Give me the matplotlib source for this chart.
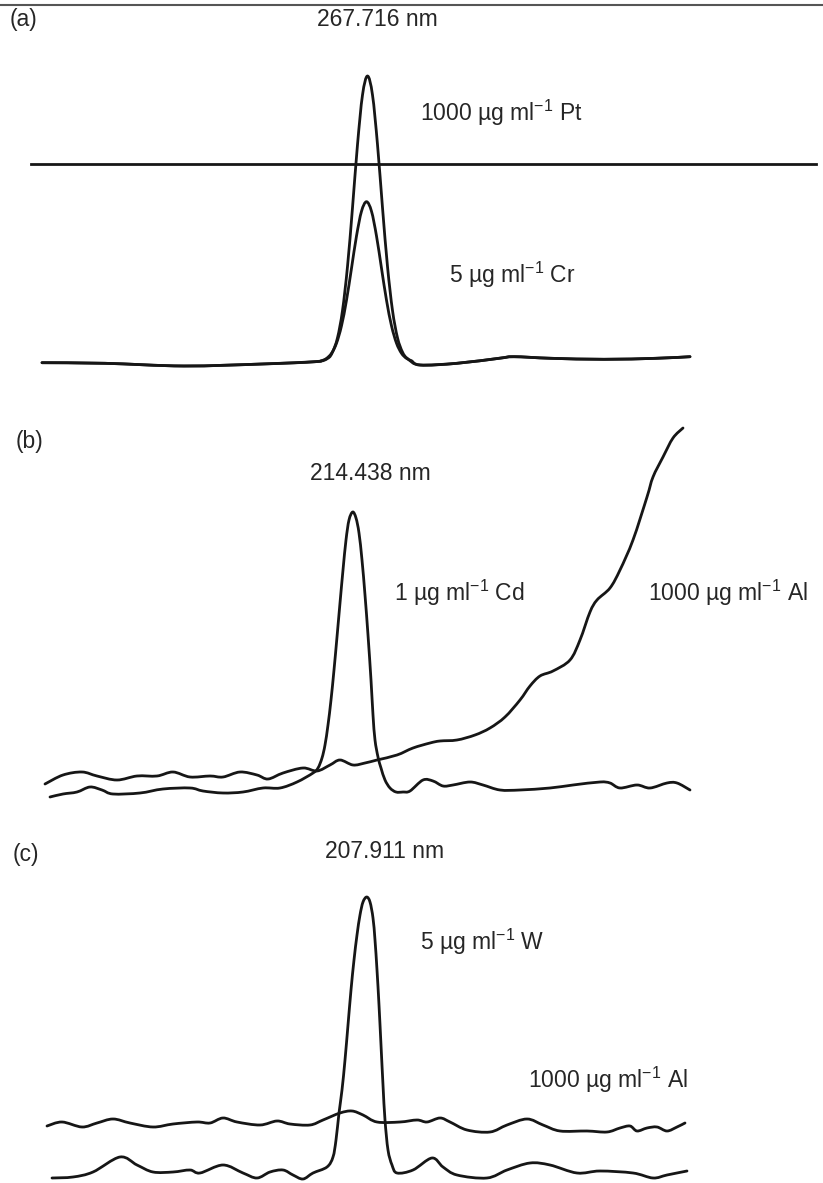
import matplotlib
matplotlib.use('Agg')
import matplotlib.pyplot as plt
from matplotlib.lines import Line2D
from matplotlib.path import Path
from matplotlib.patches import PathPatch
import numpy as np

plt.rcParams['font.family'] = ['Liberation Sans', 'DejaVu Sans']
plt.rcParams['mathtext.fontset'] = 'custom'
plt.rcParams['mathtext.rm'] = 'Liberation Sans'
plt.rcParams['mathtext.it'] = 'Liberation Sans:italic'

# ---- (a) 267.716 nm : Pt and Cr ----
a_left_x = [42, 105, 184, 262, 315]
a_left_y = [27.3, 26.7, 24, 26, 28.3]
a_right_x = [420, 457, 499, 514, 551, 604, 656, 690]
a_right_y = [25, 26.7, 31.7, 33.3, 31.7, 30.7, 31.7, 33.3]

pt_x = [327.5, 332.5, 337.5, 342.5, 347.5, 352.5, 357.5, 362.5, 367.5,
        372.5, 377.5, 382.5, 387.5, 392.5, 397.5, 402.5, 407.5]
pt_y = [31.5, 37.9, 52.2, 79.5, 123.5, 182.3, 245.4, 295, 314,
        295, 245.4, 182.3, 123.5, 79.5, 52.2, 37.9, 31.5]

cr_x = [321.5, 326.5, 331.5, 336.5, 341.5, 346.5, 351.5, 356.5, 361.5, 366.5,
        371.5, 376.5, 381.5, 386.5, 391.5, 396.5, 401.5, 406.5, 411.5]
cr_y = [29.3, 31.6, 36.7, 46.8, 64.2, 89.8, 121.7, 154, 178.7, 188.3,
        178.7, 154, 121.7, 89.8, 64.2, 46.8, 36.7, 31.6, 29.3]

pt_line_x = [31, 816]
pt_line_y = [225.5, 225.5]

# ---- (b) 214.438 nm : Cd and Al ----
cd_x = [50, 63, 77, 90, 102, 113, 140, 163, 190, 203,
        223, 243, 263, 280, 297, 313, 318, 322, 325, 328,
        331, 334, 337, 340, 343, 346, 349, 352.7, 356, 359,
        362, 365, 368, 371, 373, 375, 378, 381, 385, 390,
        396, 403, 410, 423, 433, 443, 453, 470, 483, 500,
        520, 550, 573, 600, 610, 620, 637, 650, 667, 677,
        690]
cd_y = [13, 16, 18, 23, 20, 16, 17, 21, 22, 19,
        17, 18, 22, 22, 28, 37, 42, 52, 65, 85,
        110, 140, 173, 207, 240, 270, 290, 298, 292, 277,
        250, 215, 175, 130, 95, 70, 53, 42, 30, 22,
        18, 18, 19, 30, 29, 24, 25, 28, 25, 20,
        20, 22, 25, 28, 27, 22, 25, 22, 27, 27,
        20]

alb_x = [45, 63, 82, 97, 117, 137, 157, 173, 190, 210,
         223, 240, 257, 268, 283, 303, 317, 330, 340, 353,
         365, 377, 397, 413, 430, 440, 457, 475, 490, 505,
         520, 530, 540, 553, 570, 580, 590, 597, 610, 620,
         633, 647, 653, 663, 673, 683]
alb_y = [26, 35, 38, 34, 30, 34, 34, 38, 33, 34,
         33, 38, 35, 31, 37, 42, 39, 45, 50, 45,
         47, 50, 55, 62, 67, 69, 70, 75, 82, 93,
         110, 124, 134, 139, 150, 170, 198, 210, 222, 240,
         270, 313, 333, 353, 372, 382]

# ---- (c) 207.911 nm : W and Al ----
alc_x = [47, 62, 82, 97, 113, 130, 153, 173, 197, 210,
         223, 237, 260, 277, 290, 310, 323, 340, 352, 363,
         377, 400, 417, 427, 440, 450, 467, 490, 507, 527,
         543, 560, 587, 607, 620, 630, 637, 647, 657, 667,
         677, 685]
alc_y = [57, 61, 56, 60, 64, 60, 56, 59, 61, 60,
         65, 61, 58, 62, 59, 58, 63, 70, 72, 68,
         61, 61, 63, 61, 65, 61, 53, 51, 58, 64,
         58, 52, 52, 51, 55, 57, 52, 55, 56, 52,
         56, 60]

w_x = [52, 73, 93, 120, 137, 153, 173, 190, 200, 223,
       243, 257, 270, 283, 293, 303, 313, 327, 333, 336,
       339, 342, 345, 348, 351, 354, 357, 360, 363, 366.7,
       370, 373, 375, 377, 379, 381, 383, 385, 388, 392,
       397, 413, 432, 443, 457, 487, 507, 530, 550, 577,
       600, 633, 653, 667, 687]
w_y = [5, 6, 11, 26, 18, 11, 11, 13, 10, 18,
       10, 5, 11, 13, 8, 4, 10, 16, 26, 43,
       70, 93, 123, 158, 193, 223, 248, 268, 281, 286,
       281, 265, 243, 213, 178, 138, 98, 63, 33, 18,
       10, 13, 25, 16, 8, 5, 13, 20, 18, 10,
       12, 10, 5, 8, 12]

W, H = 823, 1183
fig = plt.figure(figsize=(W / 100, H / 100), dpi=100)
fig.patch.set_facecolor('white')

lc = '#161616'
tc = '#262626'
lw = 2.0
fs = 16.5


def panel(top, bottom):
    ax = fig.add_axes([0, 1 - bottom / H, 1, (bottom - top) / H])
    ax.set_xlim(0, W)
    ax.set_ylim(0, bottom - top)
    ax.axis('off')
    return ax


# draw a trace through its points with smooth bezier segments
def trace(ax, x, y):
    p = np.column_stack([x, y]).astype(float)
    verts = [p[0]]
    codes = [Path.MOVETO]
    for i in range(len(p) - 1):
        p0 = p[i - 1] if i > 0 else p[i]
        p3 = p[i + 2] if i + 2 < len(p) else p[i + 1]
        verts += [p[i] + (p[i + 1] - p0) / 6, p[i + 1] - (p3 - p[i]) / 6, p[i + 1]]
        codes += [Path.CURVE4] * 3
    ax.add_patch(PathPatch(Path(verts, codes), fill=False, ec=lc, lw=lw,
                           clip_on=False, joinstyle='round', capstyle='round'))


def label(ax, x, y, s, ha='left'):
    ax.text(x, y, s, ha=ha, va='baseline', fontsize=fs, color=tc)


unit = ' \u00b5g ml$^{-1}$ '

# (a)
ax = panel(0, 390)
trace(ax, np.r_[a_left_x, pt_x, a_right_x], np.r_[a_left_y, pt_y, a_right_y])
trace(ax, np.r_[a_left_x, cr_x, a_right_x], np.r_[a_left_y, cr_y, a_right_y])
ax.plot(pt_line_x, pt_line_y, color=lc, lw=lw)
label(ax, 10, 364, '(a)')
label(ax, 377, 364, '267.716 nm', ha='center')
label(ax, 420, 269, '1000' + unit + 'Pt')
label(ax, 449, 107, '5' + unit + 'Cr')

# (b)
ax = panel(390, 810)
trace(ax, cd_x, cd_y)
trace(ax, alb_x, alb_y)
label(ax, 16, 362, '(b)')
label(ax, 370, 330, '214.438 nm', ha='center')
label(ax, 394, 209, '1' + unit + 'Cd')
label(ax, 648, 209, '1000' + unit + 'Al')

# (c)
ax = panel(810, 1183)
trace(ax, alc_x, alc_y)
trace(ax, w_x, w_y)
label(ax, 13, 322, '(c)')
label(ax, 385, 325, '207.911 nm', ha='center')
label(ax, 420, 233, '5' + unit + 'W')
label(ax, 528, 95, '1000' + unit + 'Al')

# thin rule along the top edge
fig.add_artist(Line2D([0, 1], [1 - 4.5 / H, 1 - 4.5 / H], color='#555555', lw=1.5))

fig.savefig('out.png', dpi=100)
